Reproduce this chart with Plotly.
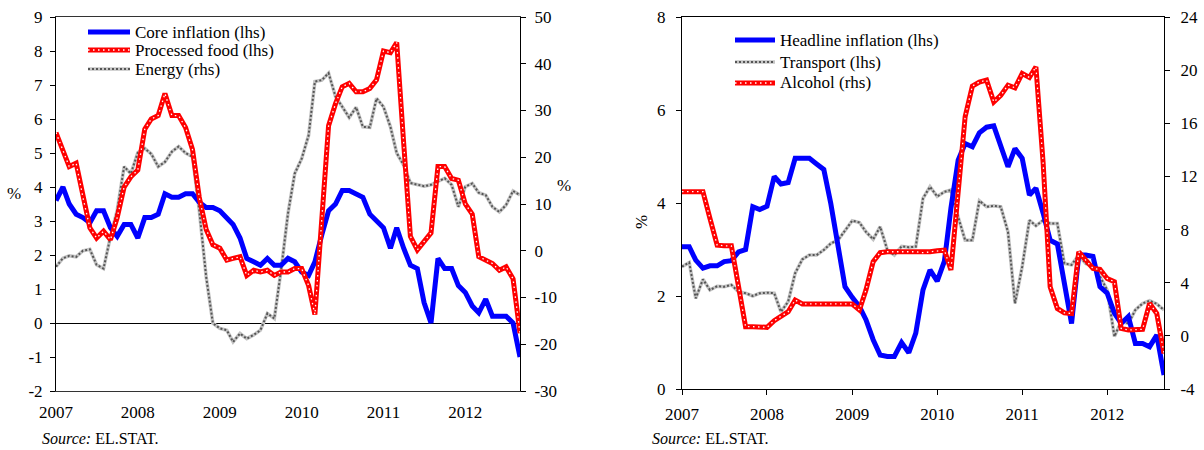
import pandas as pd
import plotly.graph_objects as go

# monthly observations, Jan 2007 - Sep 2012
months = pd.date_range("2007-01-01", "2012-09-01", freq="MS")
years = ["2007", "2008", "2009", "2010", "2011", "2012"]

# left panel: core inflation / processed food (lhs, %), energy (rhs, %)
core = [3.6, 4.0, 3.5, 3.2, 3.1, 2.95, 3.3, 3.3, 2.8, 2.55, 2.9, 2.9,
        2.5, 3.1, 3.1, 3.2, 3.8, 3.7, 3.7, 3.8, 3.8, 3.55, 3.4, 3.4,
        3.3, 3.1, 2.9, 2.5, 1.9, 1.8, 1.7, 1.9, 1.7, 1.7, 1.9, 1.8,
        1.5, 1.4, 1.8, 2.6, 3.3, 3.5, 3.9, 3.9, 3.8, 3.7, 3.2, 3.0,
        2.8, 2.2, 2.8, 2.2, 1.7, 1.6, 0.6, 0.0, 1.9, 1.6, 1.6, 1.1,
        0.9, 0.5, 0.3, 0.7, 0.2, 0.2, 0.2, 0.0, -1.0]
food = [5.6, 5.1, 4.6, 4.7, 3.7, 2.8, 2.5, 2.7, 2.45, 3.1, 4.0, 4.3,
        4.5, 5.7, 6.0, 6.1, 6.75, 6.1, 6.1, 5.75, 5.1, 3.7, 2.75, 2.3,
        2.2, 1.85, 1.9, 1.95, 1.4, 1.55, 1.5, 1.55, 1.4, 1.5, 1.5, 1.6,
        1.6, 1.1, 0.25, 3.0, 5.8, 6.45, 6.95, 7.05, 6.8, 6.8, 6.9, 7.15,
        8.0, 7.95, 8.25, 5.3, 2.55, 2.15, 2.4, 2.65, 4.6, 4.6, 4.25, 4.2,
        3.5, 3.2, 1.95, 1.85, 1.75, 1.55, 1.65, 1.3, -0.3]
energy = [-3.4, -1.6, -1.1, -1.3, 0.0, 0.3, -3.0, -3.8, 3.0, 8.7, 18.0, 16.5,
          21.0, 21.9, 20.7, 18.0, 19.0, 21.2, 22.3, 20.9, 20.1, 8.7, -5.6, -15.5,
          -16.6, -17.0, -19.5, -17.7, -18.8, -18.0, -17.0, -13.4, -14.5, -4.2, 8.0, 16.5,
          19.7, 24.7, 36.2, 36.5, 38.0, 33.0, 30.8, 28.5, 30.7, 26.5, 26.4, 32.6,
          30.8, 26.5, 20.9, 18.3, 14.5, 14.1, 13.8, 14.1, 14.8, 15.5, 14.1, 9.4,
          13.7, 14.4, 12.4, 11.9, 9.4, 8.3, 9.8, 12.8, 11.9]

# right panel: headline / transport (lhs, %), alcohol (rhs, %)
headline = [3.06, 3.06, 2.77, 2.6, 2.65, 2.65, 2.74, 2.76, 2.95, 3.0, 3.92, 3.86,
            3.93, 4.57, 4.41, 4.44, 4.96, 4.96, 4.96, 4.84, 4.72, 3.99, 3.13, 2.2,
            1.97, 1.77, 1.49, 1.06, 0.73, 0.7, 0.7, 1.0, 0.78, 1.2, 2.13, 2.56,
            2.32, 2.75, 3.89, 4.92, 5.28, 5.21, 5.51, 5.63, 5.66, 5.25, 4.78, 5.17,
            4.96, 4.17, 4.32, 3.78, 3.2, 3.12, 2.27, 1.41, 2.88, 2.88, 2.85, 2.2,
            2.06, 1.63, 1.41, 1.56, 0.98, 0.98, 0.91, 1.16, 0.3]
transport = [2.63, 2.72, 1.95, 2.36, 2.13, 2.21, 2.2, 2.24, 2.09, 2.06, 2.0, 2.06,
             2.07, 2.06, 1.66, 1.88, 2.49, 2.79, 2.88, 2.88, 2.99, 3.13, 3.2, 3.42,
             3.62, 3.58, 3.38, 3.22, 3.49, 2.99, 2.88, 3.07, 3.05, 3.06, 4.1, 4.35,
             4.14, 4.24, 4.28, 3.7, 3.2, 3.2, 4.05, 3.92, 3.94, 3.92, 3.38, 1.84,
             2.63, 3.63, 3.51, 3.63, 3.56, 3.56, 2.7, 2.67, 2.88, 2.7, 2.63, 2.42,
             2.13, 1.13, 1.45, 1.41, 1.7, 1.84, 1.9, 1.83, 1.7]
alcohol = [10.85, 10.85, 10.85, 10.85, 8.84, 6.83, 6.78, 6.78, 3.7, 0.69, 0.69, 0.64,
           0.64, 1.14, 1.44, 1.82, 2.7, 2.4, 2.4, 2.4, 2.4, 2.4, 2.4, 2.4,
           2.4, 1.95, 3.45, 5.58, 6.26, 6.33, 6.33, 6.33, 6.33, 6.33, 6.26, 6.33,
           6.4, 6.45, 4.95, 11.0, 16.5, 18.8, 19.1, 19.25, 17.6, 18.1, 18.87, 18.67,
           19.75, 19.45, 20.25, 13.0, 3.7, 2.06, 1.73, 1.68, 6.33, 5.7, 5.08, 5.0,
           4.32, 4.07, 0.56, 0.44, 0.44, 0.49, 2.45, 1.68, -1.33]

left_names = ["Core inflation (lhs)", "Processed food (lhs)", "Energy (rhs)"]
right_names = ["Headline inflation (lhs)", "Transport (lhs)", "Alcohol (rhs)"]

# axis tick values (labels written with a plain hyphen, as in the source)
left_lhs_ticks = [-2, -1, 0, 1, 2, 3, 4, 5, 6, 7, 8, 9]
left_rhs_ticks = [-30, -20, -10, 0, 10, 20, 30, 40, 50]
right_lhs_ticks = [0, 2, 4, 6, 8]
right_rhs_ticks = [-4, 0, 4, 8, 12, 16, 20, 24]

W, H = 1204, 450
FONT = "Liberation Serif, Times New Roman, serif"
BLUE = "#0000ff"
RED = "#ff0000"
GREY_BASE = "#c4c4c4"
GREY_DOT = "#555555"
year_ticks = [pd.Timestamp(y + "-01-01") for y in years]
x_range = [months[0], months[-1]]

# line styles: (colour, width, dash) layers drawn bottom to top
STYLE = {
    "solid_blue": [(BLUE, 5, "solid")],
    "red_dotted": [(RED, 5, "solid"), ("white", 1.3, "1.5px,3.5px")],
    "grey_dotted": [(GREY_BASE, 3.5, "solid"), (GREY_DOT, 2, "2px,2px")],
}


def px_x(p):
    return p / W


def px_y(p):
    return 1 - p / H


def labels(vals):
    return [str(v) for v in vals]


fig = go.Figure()


def add_series(y, xa, ya, style):
    for color, width, dash in STYLE[style]:
        fig.add_trace(go.Scatter(x=months, y=y, xaxis=xa, yaxis=ya, mode="lines",
                                 line=dict(color=color, width=width, dash=dash),
                                 showlegend=False, hoverinfo="skip"))


# left panel (energy on the base axis so it sits underneath)
add_series(energy, "x", "y", "grey_dotted")
add_series(core, "x", "y2", "solid_blue")
add_series(food, "x", "y2", "red_dotted")

# right panel
add_series(transport, "x2", "y3", "grey_dotted")
add_series(headline, "x2", "y3", "solid_blue")
add_series(alcohol, "x2", "y4", "red_dotted")

tick_font = dict(family=FONT, size=17, color="black")

left_dom_y = [px_y(391), px_y(17)]
right_dom_y = [px_y(389), px_y(17)]
lhs_range = [-2, 9]
zero_pos = left_dom_y[0] + (0 - lhs_range[0]) / (lhs_range[1] - lhs_range[0]) * (left_dom_y[1] - left_dom_y[0])

axis_common = dict(showgrid=False, zeroline=False, tickfont=tick_font, automargin=False,
                   linecolor="black", linewidth=1, tickcolor="black")

fig.update_layout(
    width=W, height=H,
    margin=dict(l=0, r=0, t=0, b=0),
    paper_bgcolor="white", plot_bgcolor="white",
    font=dict(family=FONT, size=17, color="black"),
    showlegend=False,
    xaxis=dict(domain=[px_x(56), px_x(520)], anchor="y", range=x_range,
               tickvals=year_ticks, ticktext=years, ticks="", showline=True,
               mirror=True, linecolor="#333333", showgrid=False, zeroline=False,
               tickfont=tick_font, automargin=False, ticklabelstandoff=6),
    xaxis3=dict(overlaying="x", anchor="free", position=zero_pos, range=x_range,
                tickvals=year_ticks, ticks="outside", ticklen=5, tickcolor="black",
                showticklabels=False, showline=False, showgrid=False, zeroline=False,
                automargin=False),
    yaxis=dict(domain=left_dom_y, anchor="x", side="right", range=[-30, 50],
               tickvals=left_rhs_ticks, ticktext=labels(left_rhs_ticks),
               ticks="outside", ticklen=5, showline=True, ticklabelstandoff=5,
               **axis_common),
    yaxis2=dict(overlaying="y", anchor="x", side="left", range=lhs_range,
                tickvals=left_lhs_ticks, ticktext=labels(left_lhs_ticks),
                ticks="outside", ticklen=5, showline=True, automargin=False,
                showgrid=False, zeroline=True, zerolinecolor="black", zerolinewidth=1,
                tickfont=tick_font, linecolor="black", tickcolor="black",
                ticklabelstandoff=4),
    xaxis2=dict(domain=[px_x(682), px_x(1164)], anchor="y3", range=x_range,
                tickvals=year_ticks, ticktext=years, ticks="outside", ticklen=5,
                showline=True, mirror=True, ticklabelstandoff=5, **axis_common),
    yaxis3=dict(domain=right_dom_y, anchor="x2", side="left", range=[0, 8],
                tickvals=right_lhs_ticks, ticktext=labels(right_lhs_ticks),
                ticks="outside", ticklen=5, showline=True, ticklabelstandoff=7,
                **axis_common),
    yaxis4=dict(overlaying="y3", anchor="x2", side="right", range=[-4, 24],
                tickvals=right_rhs_ticks, ticktext=labels(right_rhs_ticks),
                ticks="outside", ticklen=5, showline=True, ticklabelstandoff=7,
                **axis_common),
)

# hand-built legends (row spacing tighter than plotly's legend allows)
legends = [
    (left_names, ["solid_blue", "red_dotted", "grey_dotted"], 88, 130, 133, [32, 50, 69]),
    (right_names, ["solid_blue", "grey_dotted", "red_dotted"], 735, 775, 778, [40, 62, 83]),
]
for names, styles, x0, x1, xt, rows in legends:
    for name, style, yr in zip(names, styles, rows):
        for color, width, dash in STYLE[style]:
            fig.add_shape(type="line", xref="paper", yref="paper",
                          x0=px_x(x0), x1=px_x(x1), y0=px_y(yr), y1=px_y(yr),
                          line=dict(color=color, width=width, dash=dash))
        fig.add_annotation(text=name, x=px_x(xt), y=px_y(yr), xref="paper", yref="paper",
                           xanchor="left", yanchor="middle", showarrow=False,
                           font=dict(family=FONT, size=17, color="black"))

annotations = [
    dict(text="%", x=px_x(14), y=px_y(193)),
    dict(text="%", x=px_x(564), y=px_y(185)),
    dict(text="%", x=px_x(641), y=px_y(222), textangle=-90),
    dict(text="<i>Source:</i> EL.STAT.", x=px_x(40), y=px_y(438), xanchor="left", size=16),
    dict(text="<i>Source:</i> EL.STAT.", x=px_x(650), y=px_y(438), xanchor="left", size=16),
]
for a in annotations:
    fig.add_annotation(text=a["text"], x=a["x"], y=a["y"], xref="paper", yref="paper",
                       xanchor=a.get("xanchor", "center"), yanchor="middle",
                       textangle=a.get("textangle", 0), showarrow=False,
                       font=dict(family=FONT, size=a.get("size", 17), color="black"))

# the page's default 8px body margin would push the figure off the window
fig.write_html("out.html", config={"displayModeBar": False},
               post_script="document.body.style.margin='0';")
